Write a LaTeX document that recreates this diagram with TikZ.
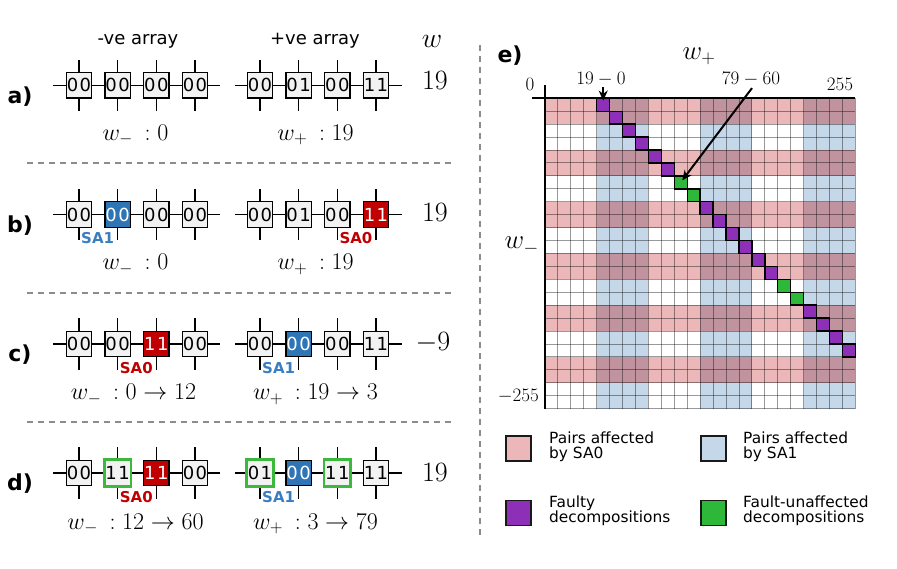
\RequirePackage{fix-cm}
\documentclass[tikz,border=0pt]{standalone}
\usepackage{fontspec}
\setsansfont{DejaVu Sans}
\usetikzlibrary{arrows.meta}
\pgfdeclarelayer{bg}
\pgfsetlayers{bg,main}
\definecolor{cellgray}{HTML}{F2F2F2}
\definecolor{cellblue}{HTML}{2E75B6}
\definecolor{cellred}{HTML}{C00000}
\definecolor{sablue}{HTML}{3A7EC2}
\definecolor{sared}{HTML}{C00000}
\definecolor{okgreen}{HTML}{3CB83C}
\definecolor{pinkc}{HTML}{ECB7B8}
\definecolor{bluec}{HTML}{C5D8EA}
\definecolor{mauvec}{HTML}{C1939F}
\definecolor{purpc}{HTML}{8E2FB8}
\definecolor{greenc}{HTML}{2EB83A}
\definecolor{dashgray}{HTML}{8C8C8C}
\newcommand\bits[2]{#1\hspace{1.5pt}#2}
\newcommand\fs[1]{\fontsize{#1}{#1}\selectfont}
\begin{document}
\begin{tikzpicture}[x=1pt,y=-1pt,
  cellbox/.style={draw=black, line width=1.3pt, fill=cellgray, minimum width=25.5pt, minimum height=25.5pt, inner sep=0pt, font=\sffamily\fs{18}},
  bluebox/.style={cellbox, fill=cellblue, text=white},
  redbox/.style={cellbox, fill=cellred, text=white},
  greenbox/.style={cellbox, draw=okgreen, line width=2.8pt, minimum width=26.5pt, minimum height=26.5pt},
  wire/.style={line width=1.3pt, draw=black},
  salbl/.style={font=\sffamily\bfseries\fs{15}, inner sep=0pt},
  hdr/.style={font=\sffamily\fs{18}, inner sep=0pt},
  rowlbl/.style={font=\sffamily\bfseries\fs{22}, inner sep=0pt},
  val/.style={font=\fs{28}, inner sep=0pt},
  wlbl/.style={font=\fs{24}, inner sep=0pt, anchor=base},
  sepline/.style={draw=dashgray, line width=1.8pt, dash pattern=on 6pt off 5pt},
  axislbl/.style={font=\fs{19}, inner sep=0pt},
  gridln/.style={draw=black, draw opacity=0.4, line width=0.9pt},
  fcell/.style={draw=black, line width=1.4pt, minimum width=12.93pt, minimum height=12.93pt, inner sep=0pt},
  axisln/.style={draw=black, line width=2pt},
  arr/.style={draw=black, line width=2pt, -{Stealth[length=10pt,width=9pt]}},
  legsq/.style={draw=black!90, line width=1.8pt, minimum width=25pt, minimum height=25pt, inner sep=0pt},
  legtx/.style={font=\sffamily\fs{15.4}, align=left, anchor=west, inner sep=0pt}
]
\useasboundingbox (0,0) rectangle (897,569);

% ---------------- left panel ----------------
\node[hdr] (hneg) at (138,41) {-ve array};
\node[hdr] (hpos) at (315,41) {+ve array};
\node[val] (hw) at (432,41) {$w$};

% row a
\foreach \nm/\x/\st/\tx in {n1/79/cellbox/\bits00, n2/117.67/cellbox/\bits00, n3/156.33/cellbox/\bits00, n4/195/cellbox/\bits00,
  p1/260/cellbox/\bits00, p2/298.67/cellbox/\bits01, p3/337.33/cellbox/\bits00, p4/376/cellbox/\bits11}
  \node[\st] (a\nm) at (\x,85.3) {\tx};
% row b
\foreach \nm/\x/\st/\tx in {n1/79/cellbox/\bits00, n2/117.67/bluebox/\bits00, n3/156.33/cellbox/\bits00, n4/195/cellbox/\bits00,
  p1/260/cellbox/\bits00, p2/298.67/cellbox/\bits01, p3/337.33/cellbox/\bits00, p4/376/redbox/\bits11}
  \node[\st] (b\nm) at (\x,214.5) {\tx};
% row c
\foreach \nm/\x/\st/\tx in {n1/79/cellbox/\bits00, n2/117.67/cellbox/\bits00, n3/156.33/redbox/\bits11, n4/195/cellbox/\bits00,
  p1/260/cellbox/\bits00, p2/298.67/bluebox/\bits00, p3/337.33/cellbox/\bits00, p4/376/cellbox/\bits11}
  \node[\st] (c\nm) at (\x,344) {\tx};
% row d
\foreach \nm/\x/\st/\tx in {n1/79/cellbox/\bits00, n2/117.67/greenbox/\bits11, n3/156.33/redbox/\bits11, n4/195/cellbox/\bits00,
  p1/260/greenbox/\bits01, p2/298.67/bluebox/\bits00, p3/337.33/greenbox/\bits11, p4/376/cellbox/\bits11}
  \node[\st] (d\nm) at (\x,473) {\tx};

\begin{pgfonlayer}{bg}
\foreach \r in {a,b,c,d} {
  \draw[wire] ([xshift=-25.7pt]\r n1.center) -- ([xshift=25pt]\r n4.center);
  \draw[wire] ([xshift=-25pt]\r p1.center) -- ([xshift=25.7pt]\r p4.center);
  \foreach \c in {n1,n2,n3,n4,p1,p2,p3,p4}
    \draw[wire] ([yshift=25.7pt]\r\c.center) -- ([yshift=-25.7pt]\r\c.center);
}
\end{pgfonlayer}

% fault labels
\node[salbl, text=sablue] (sab1) at ([xshift=-20pt,yshift=-23.5pt]bn2.center) {SA1};
\node[salbl, text=sared] (sab0) at ([xshift=-20pt,yshift=-23.5pt]bp4.center) {SA0};
\node[salbl, text=sared] (sac0) at ([xshift=-20pt,yshift=-24.5pt]cn3.center) {SA0};
\node[salbl, text=sablue] (sac1) at ([xshift=-20pt,yshift=-24.5pt]cp2.center) {SA1};
\node[salbl, text=sared] (sad0) at ([xshift=-20pt,yshift=-24.5pt]dn3.center) {SA0};
\node[salbl, text=sablue] (sad1) at ([xshift=-20pt,yshift=-24.5pt]dp2.center) {SA1};

% row labels
\node[rowlbl] (la) at (20,97) {a)};
\node[rowlbl] (lb) at (20,226) {b)};
\node[rowlbl] (lc) at (20,355) {c)};
\node[rowlbl] (ld) at (20,484) {d)};

% values
\node[val] (va) at (435,80.5) {$19$};
\node[val] (vb) at (435,212.5) {$19$};
\node[val] (vc) at (433,342.5) {$-9$};
\node[val] (vd) at (435,472.5) {$19$};

% w labels
\node[wlbl] (wna) at (135.5,140.3) {$w_-\hspace{5pt}: 0$};
\node[wlbl] (wpa) at (315.5,140.3) {$w_+\hspace{5pt}: 19$};
\node[wlbl] (wnb) at (135.5,270) {$w_-\hspace{5pt}: 0$};
\node[wlbl] (wpb) at (315.5,270) {$w_+\hspace{5pt}: 19$};
\node[wlbl] (wnc) at (133.5,399.5) {$w_-\hspace{5pt}: 0 \rightarrow 12$};
\node[wlbl] (wpc) at (315.5,399.5) {$w_+\hspace{5pt}: 19 \rightarrow 3$};
\node[wlbl] (wnd) at (135.5,529) {$w_-\hspace{5pt}: 12 \rightarrow 60$};
\node[wlbl] (wpd) at (315.5,529) {$w_+\hspace{5pt}: 3 \rightarrow 79$};

% separators
\coordinate (s1a) at (26.7,163.3); \coordinate (s1b) at (455,163.3);
\coordinate (s2a) at (26.7,292.7); \coordinate (s2b) at (455,292.7);
\coordinate (s3a) at (26.7,422); \coordinate (s3b) at (455,422);
\coordinate (sva) at (480,45); \coordinate (svb) at (480,537);
\draw[sepline] (s1a) -- (s1b);
\draw[sepline] (s2a) -- (s2b);
\draw[sepline] (s3a) -- (s3b);
\draw[sepline] (sva) -- (svb);

% ---------------- right panel ----------------
\def\cs{12.93}
\def\gx{545}
\def\gy{98.3}
\fill[white] (\gx,\gy) rectangle ++(24*\cs,24*\cs);
\foreach \j in {0,1,2}
  \fill[bluec] (\gx+8*\j*\cs+4*\cs,\gy) rectangle ++(4*\cs,24*\cs);
\foreach \k in {0,...,5} {
  \fill[pinkc] (\gx,\gy+4*\k*\cs) rectangle ++(24*\cs,2*\cs);
  \foreach \j in {0,1,2}
    \fill[mauvec] (\gx+8*\j*\cs+4*\cs,\gy+4*\k*\cs) rectangle ++(4*\cs,2*\cs);
}
\foreach \i in {0,...,24} {
  \draw[gridln] (\gx+\i*\cs,\gy) -- (\gx+\i*\cs,\gy+24*\cs);
  \draw[gridln] (\gx,\gy+\i*\cs) -- (\gx+24*\cs,\gy+\i*\cs);
}
\foreach \r in {0,1,2,3,4,5,8,9,10,11,12,13,16,17,18,19}
  \node[fcell, fill=purpc] (dg\r) at (\gx+\r*\cs+4.5*\cs,\gy+\r*\cs+0.5*\cs) {};
\foreach \r in {6,7,14,15}
  \node[fcell, fill=greenc] (dg\r) at (\gx+\r*\cs+4.5*\cs,\gy+\r*\cs+0.5*\cs) {};

% axes
\coordinate (axh1) at (532,\gy);
\coordinate (axh2) at (\gx+24*\cs,\gy);
\coordinate (axv1) at (\gx,85);
\coordinate (axv2) at (\gx,\gy+24*\cs);
\draw[axisln] (axh1) -- (axh2);
\draw[axisln] (axv1) -- (axv2);

% axis labels
\node[axislbl] (l0) at (530,84.5) {$0$};
\node[axislbl] (l190) at (601,79) {$19-0$};
\node[axislbl] (l7960) at (751,79) {$79-60$};
\node[axislbl] (l255) at (840,84) {$255$};
\node[axislbl] (lm255) at (518.3,395.8) {$-255$};
\node[font=\fs{27}, inner sep=0pt] (lwp) at (699,56.5) {$w_+$};
\node[font=\fs{27}, inner sep=0pt] (lwm) at (521.7,246) {$w_-$};
\node[rowlbl] (le) at (510,56) {e)};

% arrows
\coordinate (a1s) at (dg0.north |- l190.south);
\draw[arr] ([yshift=-1pt]a1s) -- ([yshift=-3pt]dg0.north);
\draw[arr] ([xshift=1pt,yshift=-2pt]l7960.south) -- ([xshift=1.5pt,yshift=2pt]dg6.center);

% legend
\node[legsq, fill=pinkc] (k1) at (518.8,448.3) {};
\node[legtx] (t1) at (549,447) {Pairs affected\\by SA0};
\node[legsq, fill=bluec] (k2) at (713.5,448.3) {};
\node[legtx] (t2) at (743,447) {Pairs affected\\by SA1};
\node[legsq, fill=purpc] (k3) at (518.8,513) {};
\node[legtx] (t3) at (549,511) {Faulty\\decompositions};
\node[legsq, fill=greenc] (k4) at (713.5,513) {};
\node[legtx] (t4) at (743,511) {Fault-unaffected\\decompositions};
\end{tikzpicture}
\end{document}
